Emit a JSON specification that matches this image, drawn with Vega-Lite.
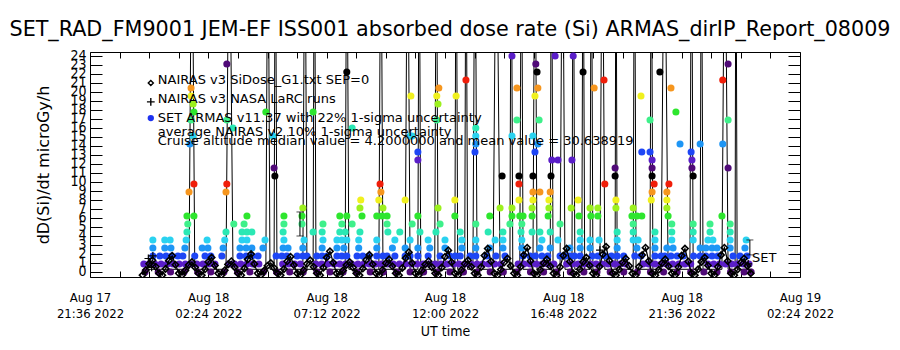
{
"$schema":"https://vega.github.io/schema/vega-lite/v6.json",
"width":710,"height":225,"autosize":"none",
"padding":{"left":90,"top":52,"right":100,"bottom":73},
"background":"white",
"title":{"text":"SET_RAD_FM9001  JEM-EF ISS001 absorbed dose rate (Si) ARMAS_dirIP_Report_08009","font":"DejaVu Sans","fontSize":20.7,"fontWeight":"normal","color":"black","anchor":"middle","frame":"group","offset":8,"dx":5},
"config":{"view":{"stroke":null},"axis":{"domainColor":"black","tickColor":"black","labelColor":"black","titleColor":"black","grid":false,"labelFont":"Liberation Sans Narrow, DejaVu Sans Condensed","labelFontSize":13,"titleFontWeight":"normal","domainWidth":1,"tickWidth":1}},
"datasets":{
"armas":[
{"t":"2022-08-17T23:50Z","d":0},{"t":"2022-08-18T00:22Z","d":0},{"t":"2022-08-18T00:52Z","d":0},{"t":"2022-08-18T01:25Z","d":0},{"t":"2022-08-18T01:58Z","d":0},{"t":"2022-08-18T02:30Z","d":0},{"t":"2022-08-18T03:02Z","d":0},{"t":"2022-08-18T03:35Z","d":0},{"t":"2022-08-18T04:05Z","d":0},{"t":"2022-08-18T04:38Z","d":0},{"t":"2022-08-18T05:10Z","d":0},{"t":"2022-08-18T05:42Z","d":0},{"t":"2022-08-18T06:15Z","d":0},{"t":"2022-08-18T06:48Z","d":0},{"t":"2022-08-18T07:20Z","d":0},{"t":"2022-08-18T07:52Z","d":0},{"t":"2022-08-18T08:25Z","d":0},{"t":"2022-08-18T08:58Z","d":0},{"t":"2022-08-18T09:30Z","d":0},{"t":"2022-08-18T10:02Z","d":0},{"t":"2022-08-18T10:35Z","d":0},{"t":"2022-08-18T11:08Z","d":0},{"t":"2022-08-18T11:40Z","d":0},{"t":"2022-08-18T12:12Z","d":0},{"t":"2022-08-18T12:45Z","d":0},{"t":"2022-08-18T13:18Z","d":0},{"t":"2022-08-18T13:50Z","d":0},{"t":"2022-08-18T14:22Z","d":0},{"t":"2022-08-18T14:55Z","d":0},{"t":"2022-08-18T15:28Z","d":0},{"t":"2022-08-18T16:00Z","d":0},{"t":"2022-08-18T16:32Z","d":0},{"t":"2022-08-18T17:05Z","d":0},{"t":"2022-08-18T17:38Z","d":0},{"t":"2022-08-18T18:10Z","d":0},{"t":"2022-08-18T18:42Z","d":0},{"t":"2022-08-18T19:15Z","d":0},{"t":"2022-08-18T19:48Z","d":0},{"t":"2022-08-18T20:20Z","d":0},{"t":"2022-08-18T20:52Z","d":0},{"t":"2022-08-18T21:25Z","d":0},{"t":"2022-08-18T21:58Z","d":0},{"t":"2022-08-18T22:30Z","d":0},{"t":"2022-08-18T23:02Z","d":0},{"t":"2022-08-18T23:35Z","d":0},{"t":"2022-08-19T00:08Z","d":0},{"t":"2022-08-19T00:25Z","d":0},
{"t":"2022-08-17T23:47Z","d":0.89},{"t":"2022-08-18T00:00Z","d":0.89},{"t":"2022-08-18T00:14Z","d":0.89},{"t":"2022-08-18T00:29Z","d":0.89},{"t":"2022-08-18T00:44Z","d":0.89},{"t":"2022-08-18T00:58Z","d":0.89},{"t":"2022-08-18T01:13Z","d":0.89},{"t":"2022-08-18T01:28Z","d":0.89},{"t":"2022-08-18T01:42Z","d":0.89},{"t":"2022-08-18T01:56Z","d":0.89},{"t":"2022-08-18T02:11Z","d":0.89},{"t":"2022-08-18T02:26Z","d":0.89},{"t":"2022-08-18T02:40Z","d":0.89},{"t":"2022-08-18T03:14Z","d":0.89},{"t":"2022-08-18T03:28Z","d":0.89},{"t":"2022-08-18T03:43Z","d":0.89},{"t":"2022-08-18T03:58Z","d":0.89},{"t":"2022-08-18T04:12Z","d":0.89},{"t":"2022-08-18T04:27Z","d":0.89},{"t":"2022-08-18T05:25Z","d":0.89},{"t":"2022-08-18T05:40Z","d":0.89},{"t":"2022-08-18T05:54Z","d":0.89},{"t":"2022-08-18T06:08Z","d":0.89},{"t":"2022-08-18T06:46Z","d":0.89},{"t":"2022-08-18T07:00Z","d":0.89},{"t":"2022-08-18T07:15Z","d":0.89},{"t":"2022-08-18T07:30Z","d":0.89},{"t":"2022-08-18T07:44Z","d":0.89},{"t":"2022-08-18T07:58Z","d":0.89},{"t":"2022-08-18T08:13Z","d":0.89},{"t":"2022-08-18T08:28Z","d":0.89},{"t":"2022-08-18T08:42Z","d":0.89},{"t":"2022-08-18T08:56Z","d":0.89},{"t":"2022-08-18T09:11Z","d":0.89},{"t":"2022-08-18T09:26Z","d":0.89},{"t":"2022-08-18T09:40Z","d":0.89},{"t":"2022-08-18T09:54Z","d":0.89},{"t":"2022-08-18T10:09Z","d":0.89},{"t":"2022-08-18T10:24Z","d":0.89},{"t":"2022-08-18T10:38Z","d":0.89},{"t":"2022-08-18T10:52Z","d":0.89},{"t":"2022-08-18T11:07Z","d":0.89},{"t":"2022-08-18T11:22Z","d":0.89},{"t":"2022-08-18T11:36Z","d":0.89},{"t":"2022-08-18T11:50Z","d":0.89},{"t":"2022-08-18T12:05Z","d":0.89},{"t":"2022-08-18T12:20Z","d":0.89},{"t":"2022-08-18T12:34Z","d":0.89},{"t":"2022-08-18T12:48Z","d":0.89},{"t":"2022-08-18T13:03Z","d":0.89},{"t":"2022-08-18T13:18Z","d":0.89},{"t":"2022-08-18T13:32Z","d":0.89},{"t":"2022-08-18T13:46Z","d":0.89},{"t":"2022-08-18T14:01Z","d":0.89},{"t":"2022-08-18T14:16Z","d":0.89},{"t":"2022-08-18T14:58Z","d":0.89},{"t":"2022-08-18T15:12Z","d":0.89},{"t":"2022-08-18T15:27Z","d":0.89},{"t":"2022-08-18T15:42Z","d":0.89},{"t":"2022-08-18T15:56Z","d":0.89},{"t":"2022-08-18T16:10Z","d":0.89},{"t":"2022-08-18T16:25Z","d":0.89},{"t":"2022-08-18T16:56Z","d":0.89},{"t":"2022-08-18T17:10Z","d":0.89},{"t":"2022-08-18T17:24Z","d":0.89},{"t":"2022-08-18T17:39Z","d":0.89},{"t":"2022-08-18T17:54Z","d":0.89},{"t":"2022-08-18T18:08Z","d":0.89},{"t":"2022-08-18T18:22Z","d":0.89},{"t":"2022-08-18T18:37Z","d":0.89},{"t":"2022-08-18T18:52Z","d":0.89},{"t":"2022-08-18T19:06Z","d":0.89},{"t":"2022-08-18T19:20Z","d":0.89},{"t":"2022-08-18T20:02Z","d":0.89},{"t":"2022-08-18T20:16Z","d":0.89},{"t":"2022-08-18T20:31Z","d":0.89},{"t":"2022-08-18T20:46Z","d":0.89},{"t":"2022-08-18T21:00Z","d":0.89},{"t":"2022-08-18T21:14Z","d":0.89},{"t":"2022-08-18T21:29Z","d":0.89},{"t":"2022-08-18T21:44Z","d":0.89},{"t":"2022-08-18T21:58Z","d":0.89},{"t":"2022-08-18T22:40Z","d":0.89},{"t":"2022-08-18T22:54Z","d":0.89},{"t":"2022-08-18T23:08Z","d":0.89},{"t":"2022-08-18T23:23Z","d":0.89},{"t":"2022-08-18T23:38Z","d":0.89},{"t":"2022-08-18T23:52Z","d":0.89},{"t":"2022-08-19T00:06Z","d":0.89},{"t":"2022-08-19T00:20Z","d":0.89},
{"t":"2022-08-18T00:09Z","d":1.78},{"t":"2022-08-18T00:26Z","d":1.78},{"t":"2022-08-18T00:41Z","d":1.78},{"t":"2022-08-18T00:55Z","d":1.78},{"t":"2022-08-18T01:10Z","d":1.78},{"t":"2022-08-18T01:22Z","d":1.78},{"t":"2022-08-18T01:51Z","d":1.78},{"t":"2022-08-18T02:16Z","d":1.78},{"t":"2022-08-18T02:30Z","d":1.78},{"t":"2022-08-18T02:57Z","d":1.78},{"t":"2022-08-18T03:41Z","d":1.78},{"t":"2022-08-18T03:56Z","d":1.78},{"t":"2022-08-18T04:10Z","d":1.78},{"t":"2022-08-18T04:25Z","d":1.78},{"t":"2022-08-18T05:09Z","d":1.78},{"t":"2022-08-18T05:23Z","d":1.78},{"t":"2022-08-18T05:35Z","d":1.78},{"t":"2022-08-18T06:00Z","d":1.78},{"t":"2022-08-18T06:14Z","d":1.78},{"t":"2022-08-18T06:24Z","d":1.78},{"t":"2022-08-18T06:48Z","d":1.78},{"t":"2022-08-18T07:01Z","d":1.78},{"t":"2022-08-18T07:13Z","d":1.78},{"t":"2022-08-18T07:37Z","d":1.78},{"t":"2022-08-18T07:49Z","d":1.78},{"t":"2022-08-18T08:01Z","d":1.78},{"t":"2022-08-18T08:26Z","d":1.78},{"t":"2022-08-18T08:40Z","d":1.78},{"t":"2022-08-18T08:55Z","d":1.78},{"t":"2022-08-18T09:14Z","d":1.78},{"t":"2022-08-18T09:29Z","d":1.78},{"t":"2022-08-18T09:39Z","d":1.78},{"t":"2022-08-18T09:58Z","d":1.78},{"t":"2022-08-18T10:23Z","d":1.78},{"t":"2022-08-18T10:35Z","d":1.78},{"t":"2022-08-18T10:54Z","d":1.78},{"t":"2022-08-18T11:19Z","d":1.78},{"t":"2022-08-18T11:48Z","d":1.78},{"t":"2022-08-18T12:12Z","d":1.78},{"t":"2022-08-18T12:25Z","d":1.78},{"t":"2022-08-18T12:37Z","d":1.78},{"t":"2022-08-18T13:01Z","d":1.78},{"t":"2022-08-18T13:15Z","d":1.78},{"t":"2022-08-18T13:42Z","d":1.78},{"t":"2022-08-18T14:04Z","d":1.78},{"t":"2022-08-18T14:26Z","d":1.78},{"t":"2022-08-18T15:10Z","d":1.78},{"t":"2022-08-18T15:27Z","d":1.78},{"t":"2022-08-18T15:40Z","d":1.78},{"t":"2022-08-18T15:56Z","d":1.78},{"t":"2022-08-18T16:10Z","d":1.78},{"t":"2022-08-18T16:40Z","d":1.78},{"t":"2022-08-18T16:55Z","d":1.78},{"t":"2022-08-18T17:04Z","d":1.78},{"t":"2022-08-18T17:15Z","d":1.78},{"t":"2022-08-18T17:29Z","d":1.78},{"t":"2022-08-18T17:58Z","d":1.78},{"t":"2022-08-18T18:12Z","d":1.78},{"t":"2022-08-18T18:30Z","d":1.78},{"t":"2022-08-18T18:45Z","d":1.78},{"t":"2022-08-18T18:59Z","d":1.78},{"t":"2022-08-18T19:15Z","d":1.78},{"t":"2022-08-18T19:42Z","d":1.78},{"t":"2022-08-18T19:57Z","d":1.78},{"t":"2022-08-18T20:31Z","d":1.78},{"t":"2022-08-18T20:46Z","d":1.78},{"t":"2022-08-18T20:55Z","d":1.78},{"t":"2022-08-18T21:10Z","d":1.78},{"t":"2022-08-18T21:25Z","d":1.78},{"t":"2022-08-18T21:40Z","d":1.78},{"t":"2022-08-18T22:05Z","d":1.78},{"t":"2022-08-18T22:21Z","d":1.78},{"t":"2022-08-18T22:35Z","d":1.78},{"t":"2022-08-18T22:50Z","d":1.78},{"t":"2022-08-18T23:04Z","d":1.78},{"t":"2022-08-18T23:41Z","d":1.78},{"t":"2022-08-18T23:58Z","d":1.78},{"t":"2022-08-19T00:15Z","d":1.78},
{"t":"2022-08-18T00:09Z","d":2.67},{"t":"2022-08-18T00:38Z","d":2.67},{"t":"2022-08-18T00:53Z","d":2.67},{"t":"2022-08-18T01:27Z","d":2.67},{"t":"2022-08-18T02:09Z","d":2.67},{"t":"2022-08-18T02:23Z","d":2.67},{"t":"2022-08-18T03:00Z","d":2.67},{"t":"2022-08-18T03:41Z","d":2.67},{"t":"2022-08-18T03:56Z","d":2.67},{"t":"2022-08-18T04:10Z","d":2.67},{"t":"2022-08-18T04:37Z","d":2.67},{"t":"2022-08-18T05:26Z","d":2.67},{"t":"2022-08-18T05:38Z","d":2.67},{"t":"2022-08-18T06:14Z","d":2.67},{"t":"2022-08-18T07:01Z","d":2.67},{"t":"2022-08-18T07:37Z","d":2.67},{"t":"2022-08-18T07:54Z","d":2.67},{"t":"2022-08-18T08:30Z","d":2.67},{"t":"2022-08-18T09:14Z","d":2.67},{"t":"2022-08-18T09:52Z","d":2.67},{"t":"2022-08-18T10:23Z","d":2.67},{"t":"2022-08-18T10:54Z","d":2.67},{"t":"2022-08-18T11:23Z","d":2.67},{"t":"2022-08-18T12:00Z","d":2.67},{"t":"2022-08-18T12:41Z","d":2.67},{"t":"2022-08-18T13:15Z","d":2.67},{"t":"2022-08-18T13:49Z","d":2.67},{"t":"2022-08-18T14:21Z","d":2.67},{"t":"2022-08-18T15:07Z","d":2.67},{"t":"2022-08-18T15:51Z","d":2.67},{"t":"2022-08-18T16:16Z","d":2.67},{"t":"2022-08-18T17:04Z","d":2.67},{"t":"2022-08-18T17:29Z","d":2.67},{"t":"2022-08-18T17:53Z","d":2.67},{"t":"2022-08-18T18:59Z","d":2.67},{"t":"2022-08-18T19:47Z","d":2.67},{"t":"2022-08-18T20:31Z","d":2.67},{"t":"2022-08-18T21:00Z","d":2.67},{"t":"2022-08-18T21:15Z","d":2.67},{"t":"2022-08-18T22:21Z","d":2.67},{"t":"2022-08-18T22:35Z","d":2.67},{"t":"2022-08-18T22:50Z","d":2.67},{"t":"2022-08-18T23:02Z","d":2.67},{"t":"2022-08-18T23:34Z","d":2.67},{"t":"2022-08-19T00:10Z","d":2.67},
{"t":"2022-08-18T00:09Z","d":3.56},{"t":"2022-08-18T00:38Z","d":3.56},{"t":"2022-08-18T00:51Z","d":3.56},{"t":"2022-08-18T01:30Z","d":3.56},{"t":"2022-08-18T02:21Z","d":3.56},{"t":"2022-08-18T03:04Z","d":3.56},{"t":"2022-08-18T03:46Z","d":3.56},{"t":"2022-08-18T03:58Z","d":3.56},{"t":"2022-08-18T04:42Z","d":3.56},{"t":"2022-08-18T05:28Z","d":3.56},{"t":"2022-08-18T06:17Z","d":3.56},{"t":"2022-08-18T07:03Z","d":3.56},{"t":"2022-08-18T07:37Z","d":3.56},{"t":"2022-08-18T07:49Z","d":3.56},{"t":"2022-08-18T08:01Z","d":3.56},{"t":"2022-08-18T08:30Z","d":3.56},{"t":"2022-08-18T09:14Z","d":3.56},{"t":"2022-08-18T09:58Z","d":3.56},{"t":"2022-08-18T10:35Z","d":3.56},{"t":"2022-08-18T11:19Z","d":3.56},{"t":"2022-08-18T12:00Z","d":3.56},{"t":"2022-08-18T12:41Z","d":3.56},{"t":"2022-08-18T13:15Z","d":3.56},{"t":"2022-08-18T14:02Z","d":3.56},{"t":"2022-08-18T14:21Z","d":3.56},{"t":"2022-08-18T15:07Z","d":3.56},{"t":"2022-08-18T15:56Z","d":3.56},{"t":"2022-08-18T16:35Z","d":3.56},{"t":"2022-08-18T17:29Z","d":3.56},{"t":"2022-08-18T17:53Z","d":3.56},{"t":"2022-08-18T18:15Z","d":3.56},{"t":"2022-08-18T18:59Z","d":3.56},{"t":"2022-08-18T19:38Z","d":3.56},{"t":"2022-08-18T19:50Z","d":3.56},{"t":"2022-08-18T20:31Z","d":3.56},{"t":"2022-08-18T21:12Z","d":3.56},{"t":"2022-08-18T22:04Z","d":3.56},{"t":"2022-08-18T22:40Z","d":3.56},{"t":"2022-08-18T22:52Z","d":3.56},{"t":"2022-08-18T23:34Z","d":3.56},{"t":"2022-08-19T00:13Z","d":3.56},
{"t":"2022-08-18T01:32Z","d":4.44},{"t":"2022-08-18T03:07Z","d":4.44},{"t":"2022-08-18T03:46Z","d":4.44},{"t":"2022-08-18T03:58Z","d":4.44},{"t":"2022-08-18T04:10Z","d":4.44},{"t":"2022-08-18T05:26Z","d":4.44},{"t":"2022-08-18T06:39Z","d":4.44},{"t":"2022-08-18T07:01Z","d":4.44},{"t":"2022-08-18T07:44Z","d":4.44},{"t":"2022-08-18T07:57Z","d":4.44},{"t":"2022-08-18T08:33Z","d":4.44},{"t":"2022-08-18T09:41Z","d":4.44},{"t":"2022-08-18T10:10Z","d":4.44},{"t":"2022-08-18T10:59Z","d":4.44},{"t":"2022-08-18T11:38Z","d":4.44},{"t":"2022-08-18T12:37Z","d":4.44},{"t":"2022-08-18T13:45Z","d":4.44},{"t":"2022-08-18T14:21Z","d":4.44},{"t":"2022-08-18T15:05Z","d":4.44},{"t":"2022-08-18T15:32Z","d":4.44},{"t":"2022-08-18T15:51Z","d":4.44},{"t":"2022-08-18T16:16Z","d":4.44},{"t":"2022-08-18T17:29Z","d":4.44},{"t":"2022-08-18T18:59Z","d":4.44},{"t":"2022-08-18T19:38Z","d":4.44},{"t":"2022-08-18T20:31Z","d":4.44},{"t":"2022-08-18T21:12Z","d":4.44},{"t":"2022-08-18T22:04Z","d":4.44},{"t":"2022-08-18T22:45Z","d":4.44},{"t":"2022-08-18T23:34Z","d":4.44},
{"t":"2022-08-18T01:34Z","d":5.33},{"t":"2022-08-18T03:26Z","d":5.33},{"t":"2022-08-18T03:51Z","d":5.33},{"t":"2022-08-18T05:28Z","d":5.33},{"t":"2022-08-18T06:12Z","d":5.33},{"t":"2022-08-18T07:03Z","d":5.33},{"t":"2022-08-18T07:49Z","d":5.33},{"t":"2022-08-18T08:14Z","d":5.33},{"t":"2022-08-18T09:39Z","d":5.33},{"t":"2022-08-18T10:40Z","d":5.33},{"t":"2022-08-18T11:48Z","d":5.33},{"t":"2022-08-18T13:15Z","d":5.33},{"t":"2022-08-18T14:38Z","d":5.33},{"t":"2022-08-18T15:07Z","d":5.33},{"t":"2022-08-18T16:40Z","d":5.33},{"t":"2022-08-18T19:38Z","d":5.33},{"t":"2022-08-18T21:12Z","d":5.33},{"t":"2022-08-18T22:04Z","d":5.33},{"t":"2022-08-18T22:45Z","d":5.33},{"t":"2022-08-18T23:34Z","d":5.33},
{"t":"2022-08-18T01:32Z","d":6.22},{"t":"2022-08-18T01:49Z","d":6.22},{"t":"2022-08-18T03:58Z","d":6.22},{"t":"2022-08-18T05:28Z","d":6.22},{"t":"2022-08-18T06:12Z","d":6.22},{"t":"2022-08-18T07:44Z","d":6.22},{"t":"2022-08-18T08:01Z","d":6.22},{"t":"2022-08-18T08:38Z","d":6.22},{"t":"2022-08-18T09:14Z","d":6.22},{"t":"2022-08-18T09:27Z","d":6.22},{"t":"2022-08-18T09:39Z","d":6.22},{"t":"2022-08-18T10:54Z","d":6.22},{"t":"2022-08-18T12:24Z","d":6.22},{"t":"2022-08-18T13:49Z","d":6.22},{"t":"2022-08-18T14:43Z","d":6.22},{"t":"2022-08-18T15:02Z","d":6.22},{"t":"2022-08-18T15:10Z","d":6.22},{"t":"2022-08-18T15:32Z","d":6.22},{"t":"2022-08-18T16:11Z","d":6.22},{"t":"2022-08-18T17:26Z","d":6.22},{"t":"2022-08-18T17:55Z","d":6.22},{"t":"2022-08-18T18:12Z","d":6.22},{"t":"2022-08-18T19:35Z","d":6.22},{"t":"2022-08-18T19:47Z","d":6.22},{"t":"2022-08-18T19:59Z","d":6.22},{"t":"2022-08-18T21:03Z","d":6.22},{"t":"2022-08-18T23:14Z","d":6.22},
{"t":"2022-08-18T06:14Z","d":7.11},{"t":"2022-08-18T08:33Z","d":7.11},{"t":"2022-08-18T09:29Z","d":7.11},{"t":"2022-08-18T11:43Z","d":7.11},{"t":"2022-08-18T14:14Z","d":7.11},{"t":"2022-08-18T14:43Z","d":7.11},{"t":"2022-08-18T15:32Z","d":7.11},{"t":"2022-08-18T16:13Z","d":7.11},{"t":"2022-08-18T17:07Z","d":7.11},{"t":"2022-08-18T17:53Z","d":7.11},{"t":"2022-08-18T18:12Z","d":7.11},{"t":"2022-08-18T18:56Z","d":7.11},{"t":"2022-08-18T19:38Z","d":7.11},{"t":"2022-08-18T21:00Z","d":7.11},
{"t":"2022-08-18T08:35Z","d":8},{"t":"2022-08-18T09:19Z","d":8},{"t":"2022-08-18T10:23Z","d":8},{"t":"2022-08-18T12:24Z","d":8},{"t":"2022-08-18T15:00Z","d":8},{"t":"2022-08-18T15:34Z","d":8},{"t":"2022-08-18T16:13Z","d":8},{"t":"2022-08-18T17:24Z","d":8},{"t":"2022-08-18T18:56Z","d":8},{"t":"2022-08-18T20:22Z","d":8},{"t":"2022-08-18T21:00Z","d":8},
{"t":"2022-08-18T01:37Z","d":8.89},{"t":"2022-08-18T03:07Z","d":8.89},{"t":"2022-08-18T09:24Z","d":8.89},{"t":"2022-08-18T15:34Z","d":8.89},{"t":"2022-08-18T15:51Z","d":8.89},{"t":"2022-08-18T16:16Z","d":8.89},{"t":"2022-08-18T20:24Z","d":8.89},{"t":"2022-08-18T21:00Z","d":8.89},
{"t":"2022-08-18T01:49Z","d":9.78},{"t":"2022-08-18T03:09Z","d":9.78},{"t":"2022-08-18T09:22Z","d":9.78},{"t":"2022-08-18T15:00Z","d":9.78},{"t":"2022-08-18T18:29Z","d":9.78},{"t":"2022-08-18T20:29Z","d":9.78},{"t":"2022-08-18T21:05Z","d":9.78},
{"t":"2022-08-18T05:06Z","d":10.67},{"t":"2022-08-18T14:19Z","d":10.67},{"t":"2022-08-18T15:00Z","d":10.67},{"t":"2022-08-18T15:34Z","d":10.67},{"t":"2022-08-18T16:18Z","d":10.67},{"t":"2022-08-18T18:54Z","d":10.67},{"t":"2022-08-18T20:24Z","d":10.67},{"t":"2022-08-18T22:04Z","d":10.67},
{"t":"2022-08-18T05:04Z","d":11.56},{"t":"2022-08-18T18:54Z","d":11.56},{"t":"2022-08-18T20:24Z","d":11.56},{"t":"2022-08-18T22:01Z","d":11.56},{"t":"2022-08-18T23:29Z","d":11.56},
{"t":"2022-08-18T10:54Z","d":12.44},{"t":"2022-08-18T16:20Z","d":12.44},{"t":"2022-08-18T16:35Z","d":12.44},{"t":"2022-08-18T17:09Z","d":12.44},{"t":"2022-08-18T20:24Z","d":12.44},{"t":"2022-08-18T22:01Z","d":12.44},
{"t":"2022-08-18T10:54Z","d":13.33},{"t":"2022-08-18T13:13Z","d":13.33},{"t":"2022-08-18T15:39Z","d":13.33},{"t":"2022-08-18T19:59Z","d":13.33},{"t":"2022-08-18T20:19Z","d":13.33},{"t":"2022-08-18T21:59Z","d":13.33},
{"t":"2022-08-18T01:39Z","d":14.22},{"t":"2022-08-18T13:15Z","d":14.22},{"t":"2022-08-18T15:46Z","d":14.22},{"t":"2022-08-18T21:32Z","d":14.22},{"t":"2022-08-18T22:21Z","d":14.22},{"t":"2022-08-18T23:16Z","d":14.22},
{"t":"2022-08-18T01:47Z","d":15.11},{"t":"2022-08-18T05:01Z","d":15.11},{"t":"2022-08-18T10:35Z","d":15.11},{"t":"2022-08-18T10:40Z","d":15.11},{"t":"2022-08-18T13:15Z","d":15.11},{"t":"2022-08-18T14:43Z","d":15.11},{"t":"2022-08-18T15:34Z","d":15.11},
{"t":"2022-08-18T03:24Z","d":16},{"t":"2022-08-18T08:14Z","d":16},{"t":"2022-08-18T13:15Z","d":16},
{"t":"2022-08-18T01:42Z","d":16.89},{"t":"2022-08-18T03:09Z","d":16.89},{"t":"2022-08-18T11:40Z","d":16.89},{"t":"2022-08-18T14:55Z","d":16.89},{"t":"2022-08-18T15:49Z","d":16.89},{"t":"2022-08-18T20:19Z","d":16.89},{"t":"2022-08-18T23:29Z","d":16.89},
{"t":"2022-08-18T01:49Z","d":17.78},{"t":"2022-08-18T04:44Z","d":17.78},{"t":"2022-08-18T06:39Z","d":17.78},{"t":"2022-08-18T21:22Z","d":17.78},
{"t":"2022-08-18T01:47Z","d":18.67},{"t":"2022-08-18T11:43Z","d":18.67},
{"t":"2022-08-18T01:42Z","d":19.56},{"t":"2022-08-18T10:37Z","d":19.56},{"t":"2022-08-18T11:40Z","d":19.56},{"t":"2022-08-18T12:27Z","d":19.56},{"t":"2022-08-18T15:39Z","d":19.56},{"t":"2022-08-18T19:57Z","d":19.56},
{"t":"2022-08-18T01:42Z","d":20.44},{"t":"2022-08-18T11:45Z","d":20.44},{"t":"2022-08-18T14:55Z","d":20.44},{"t":"2022-08-18T15:46Z","d":20.44},{"t":"2022-08-18T18:03Z","d":20.44},{"t":"2022-08-18T21:10Z","d":20.44},
{"t":"2022-08-18T12:51Z","d":21.33},{"t":"2022-08-18T18:27Z","d":21.33},{"t":"2022-08-18T23:16Z","d":21.33},
{"t":"2022-08-18T08:01Z","d":22.22},{"t":"2022-08-18T15:44Z","d":22.22},{"t":"2022-08-18T17:36Z","d":22.22},{"t":"2022-08-18T20:43Z","d":22.22},
{"t":"2022-08-18T03:09Z","d":23.11},{"t":"2022-08-18T15:41Z","d":23.11},{"t":"2022-08-18T23:29Z","d":23.11},
{"t":"2022-08-18T14:43Z","d":24},{"t":"2022-08-18T16:28Z","d":24},{"t":"2022-08-18T17:12Z","d":24}
],
"nairas":[
{"t":"2022-08-17T23:44Z","d":-0.35},{"t":"2022-08-17T23:52Z","d":0.22},{"t":"2022-08-18T00:00Z","d":0.91},{"t":"2022-08-18T00:08Z","d":1.3},{"t":"2022-08-18T00:16Z","d":0.58},{"t":"2022-08-18T00:24Z","d":-0.15},
{"t":"2022-08-18T00:32Z","d":-0.35},{"t":"2022-08-18T00:40Z","d":0.35},{"t":"2022-08-18T00:48Z","d":1.26},{"t":"2022-08-18T00:56Z","d":1.8},{"t":"2022-08-18T01:04Z","d":0.81},{"t":"2022-08-18T01:12Z","d":-0.15},
{"t":"2022-08-18T01:20Z","d":-0.35},{"t":"2022-08-18T01:28Z","d":0.18},{"t":"2022-08-18T01:36Z","d":0.77},{"t":"2022-08-18T01:44Z","d":1.1},{"t":"2022-08-18T01:52Z","d":0.5},{"t":"2022-08-18T02:00Z","d":-0.15},
{"t":"2022-08-18T02:08Z","d":-0.35},{"t":"2022-08-18T02:16Z","d":0.3},{"t":"2022-08-18T02:24Z","d":1.12},{"t":"2022-08-18T02:32Z","d":1.6},{"t":"2022-08-18T02:40Z","d":0.72},{"t":"2022-08-18T02:48Z","d":-0.15},
{"t":"2022-08-18T02:56Z","d":-0.35},{"t":"2022-08-18T03:04Z","d":0.2},{"t":"2022-08-18T03:12Z","d":0.84},{"t":"2022-08-18T03:20Z","d":1.2},{"t":"2022-08-18T03:28Z","d":0.54},{"t":"2022-08-18T03:36Z","d":-0.15},
{"t":"2022-08-18T03:44Z","d":-0.35},{"t":"2022-08-18T03:52Z","d":0.4},{"t":"2022-08-18T04:00Z","d":1.4},{"t":"2022-08-18T04:08Z","d":2.0},{"t":"2022-08-18T04:16Z","d":0.9},{"t":"2022-08-18T04:24Z","d":-0.15},
{"t":"2022-08-18T04:32Z","d":-0.35},{"t":"2022-08-18T04:40Z","d":0.15},{"t":"2022-08-18T04:48Z","d":0.7},{"t":"2022-08-18T04:56Z","d":1.0},{"t":"2022-08-18T05:04Z","d":0.45},{"t":"2022-08-18T05:12Z","d":-0.15},
{"t":"2022-08-18T05:20Z","d":-0.35},{"t":"2022-08-18T05:28Z","d":0.32},{"t":"2022-08-18T05:36Z","d":1.19},{"t":"2022-08-18T05:44Z","d":1.7},{"t":"2022-08-18T05:52Z","d":0.77},{"t":"2022-08-18T06:00Z","d":-0.15},
{"t":"2022-08-18T06:08Z","d":-0.35},{"t":"2022-08-18T06:16Z","d":0.22},{"t":"2022-08-18T06:24Z","d":0.91},{"t":"2022-08-18T06:32Z","d":1.3},{"t":"2022-08-18T06:40Z","d":0.58},{"t":"2022-08-18T06:48Z","d":-0.15},
{"t":"2022-08-18T06:56Z","d":-0.35},{"t":"2022-08-18T07:04Z","d":0.48},{"t":"2022-08-18T07:12Z","d":1.61},{"t":"2022-08-18T07:20Z","d":2.3},{"t":"2022-08-18T07:28Z","d":1.04},{"t":"2022-08-18T07:36Z","d":-0.15},
{"t":"2022-08-18T07:44Z","d":-0.35},{"t":"2022-08-18T07:52Z","d":0.18},{"t":"2022-08-18T08:00Z","d":0.77},{"t":"2022-08-18T08:08Z","d":1.1},{"t":"2022-08-18T08:16Z","d":0.5},{"t":"2022-08-18T08:24Z","d":-0.15},
{"t":"2022-08-18T08:32Z","d":-0.35},{"t":"2022-08-18T08:40Z","d":0.38},{"t":"2022-08-18T08:48Z","d":1.33},{"t":"2022-08-18T08:56Z","d":1.9},{"t":"2022-08-18T09:04Z","d":0.86},{"t":"2022-08-18T09:12Z","d":-0.15},
{"t":"2022-08-18T09:20Z","d":-0.35},{"t":"2022-08-18T09:28Z","d":0.25},{"t":"2022-08-18T09:36Z","d":0.98},{"t":"2022-08-18T09:44Z","d":1.4},{"t":"2022-08-18T09:52Z","d":0.63},{"t":"2022-08-18T10:00Z","d":-0.15},
{"t":"2022-08-18T10:08Z","d":-0.35},{"t":"2022-08-18T10:16Z","d":0.45},{"t":"2022-08-18T10:24Z","d":1.54},{"t":"2022-08-18T10:32Z","d":2.2},{"t":"2022-08-18T10:40Z","d":0.99},{"t":"2022-08-18T10:48Z","d":-0.15},
{"t":"2022-08-18T10:56Z","d":-0.35},{"t":"2022-08-18T11:04Z","d":0.2},{"t":"2022-08-18T11:12Z","d":0.84},{"t":"2022-08-18T11:20Z","d":1.2},{"t":"2022-08-18T11:28Z","d":0.54},{"t":"2022-08-18T11:36Z","d":-0.15},
{"t":"2022-08-18T11:44Z","d":-0.35},{"t":"2022-08-18T11:52Z","d":0.5},{"t":"2022-08-18T12:00Z","d":1.68},{"t":"2022-08-18T12:08Z","d":2.4},{"t":"2022-08-18T12:16Z","d":1.08},{"t":"2022-08-18T12:24Z","d":-0.15},
{"t":"2022-08-18T12:32Z","d":-0.35},{"t":"2022-08-18T12:40Z","d":0.22},{"t":"2022-08-18T12:48Z","d":0.91},{"t":"2022-08-18T12:56Z","d":1.3},{"t":"2022-08-18T13:04Z","d":0.58},{"t":"2022-08-18T13:12Z","d":-0.15},
{"t":"2022-08-18T13:20Z","d":-0.35},{"t":"2022-08-18T13:28Z","d":0.55},{"t":"2022-08-18T13:36Z","d":1.82},{"t":"2022-08-18T13:44Z","d":2.6},{"t":"2022-08-18T13:52Z","d":1.17},{"t":"2022-08-18T14:00Z","d":-0.15},
{"t":"2022-08-18T14:08Z","d":-0.35},{"t":"2022-08-18T14:16Z","d":0.28},{"t":"2022-08-18T14:24Z","d":1.05},{"t":"2022-08-18T14:32Z","d":1.5},{"t":"2022-08-18T14:40Z","d":0.68},{"t":"2022-08-18T14:48Z","d":-0.15},
{"t":"2022-08-18T14:56Z","d":-0.35},{"t":"2022-08-18T15:04Z","d":0.58},{"t":"2022-08-18T15:12Z","d":1.89},{"t":"2022-08-18T15:20Z","d":2.7},{"t":"2022-08-18T15:28Z","d":1.22},{"t":"2022-08-18T15:36Z","d":-0.15},
{"t":"2022-08-18T15:44Z","d":-0.35},{"t":"2022-08-18T15:52Z","d":0.25},{"t":"2022-08-18T16:00Z","d":0.98},{"t":"2022-08-18T16:08Z","d":1.4},{"t":"2022-08-18T16:16Z","d":0.63},{"t":"2022-08-18T16:24Z","d":-0.15},
{"t":"2022-08-18T16:32Z","d":-0.35},{"t":"2022-08-18T16:40Z","d":0.55},{"t":"2022-08-18T16:48Z","d":1.82},{"t":"2022-08-18T16:56Z","d":2.6},{"t":"2022-08-18T17:04Z","d":1.17},{"t":"2022-08-18T17:12Z","d":-0.15},
{"t":"2022-08-18T17:20Z","d":-0.35},{"t":"2022-08-18T17:28Z","d":0.3},{"t":"2022-08-18T17:36Z","d":1.12},{"t":"2022-08-18T17:44Z","d":1.6},{"t":"2022-08-18T17:52Z","d":0.72},{"t":"2022-08-18T18:00Z","d":-0.15},
{"t":"2022-08-18T18:08Z","d":-0.35},{"t":"2022-08-18T18:16Z","d":0.6},{"t":"2022-08-18T18:24Z","d":1.96},{"t":"2022-08-18T18:32Z","d":2.8},{"t":"2022-08-18T18:40Z","d":1.26},{"t":"2022-08-18T18:48Z","d":-0.15},
{"t":"2022-08-18T18:56Z","d":-0.35},{"t":"2022-08-18T19:04Z","d":0.28},{"t":"2022-08-18T19:12Z","d":1.05},{"t":"2022-08-18T19:20Z","d":1.5},{"t":"2022-08-18T19:28Z","d":0.68},{"t":"2022-08-18T19:36Z","d":-0.15},
{"t":"2022-08-18T19:44Z","d":-0.35},{"t":"2022-08-18T19:52Z","d":0.58},{"t":"2022-08-18T20:00Z","d":1.89},{"t":"2022-08-18T20:08Z","d":2.7},{"t":"2022-08-18T20:16Z","d":1.22},{"t":"2022-08-18T20:24Z","d":-0.15},
{"t":"2022-08-18T20:32Z","d":-0.35},{"t":"2022-08-18T20:40Z","d":0.25},{"t":"2022-08-18T20:48Z","d":0.98},{"t":"2022-08-18T20:56Z","d":1.4},{"t":"2022-08-18T21:04Z","d":0.63},{"t":"2022-08-18T21:12Z","d":-0.15},
{"t":"2022-08-18T21:20Z","d":-0.35},{"t":"2022-08-18T21:28Z","d":0.55},{"t":"2022-08-18T21:36Z","d":1.82},{"t":"2022-08-18T21:44Z","d":2.6},{"t":"2022-08-18T21:52Z","d":1.17},{"t":"2022-08-18T22:00Z","d":-0.15},
{"t":"2022-08-18T22:08Z","d":-0.35},{"t":"2022-08-18T22:16Z","d":0.3},{"t":"2022-08-18T22:24Z","d":1.12},{"t":"2022-08-18T22:32Z","d":1.6},{"t":"2022-08-18T22:40Z","d":0.72},{"t":"2022-08-18T22:48Z","d":-0.15},
{"t":"2022-08-18T22:56Z","d":-0.35},{"t":"2022-08-18T23:04Z","d":0.58},{"t":"2022-08-18T23:12Z","d":1.89},{"t":"2022-08-18T23:20Z","d":2.7},{"t":"2022-08-18T23:28Z","d":1.22},{"t":"2022-08-18T23:36Z","d":-0.15},
{"t":"2022-08-18T23:44Z","d":-0.35},{"t":"2022-08-18T23:52Z","d":0.28},{"t":"2022-08-19T00:00Z","d":1.05},{"t":"2022-08-19T00:08Z","d":1.5},{"t":"2022-08-19T00:16Z","d":0.68},{"t":"2022-08-19T00:24Z","d":-0.15}
],
"trace":[
{"t":"2022-08-17T23:45Z","d":0.3},
{"t":"2022-08-18T01:37Z","d":0.3},{"t":"2022-08-18T01:44Z","d":45},{"t":"2022-08-18T01:51Z","d":0.3},
{"t":"2022-08-18T03:07Z","d":0.3},{"t":"2022-08-18T03:15Z","d":45},{"t":"2022-08-18T03:24Z","d":0.3},
{"t":"2022-08-18T04:44Z","d":0.3},{"t":"2022-08-18T04:49Z","d":45},{"t":"2022-08-18T04:54Z","d":0.3},
{"t":"2022-08-18T05:04Z","d":0.3},{"t":"2022-08-18T05:07Z","d":45},{"t":"2022-08-18T05:11Z","d":0.3},
{"t":"2022-08-18T06:14Z","d":0.3},{"t":"2022-08-18T06:19Z","d":45},{"t":"2022-08-18T06:24Z","d":0.3},
{"t":"2022-08-18T06:39Z","d":0.3},{"t":"2022-08-18T06:42Z","d":45},{"t":"2022-08-18T06:46Z","d":0.3},
{"t":"2022-08-18T07:57Z","d":0.3},{"t":"2022-08-18T08:01Z","d":45},{"t":"2022-08-18T08:06Z","d":0.3},
{"t":"2022-08-18T09:19Z","d":0.3},{"t":"2022-08-18T09:24Z","d":45},{"t":"2022-08-18T09:29Z","d":0.3},
{"t":"2022-08-18T10:23Z","d":0.3},{"t":"2022-08-18T10:29Z","d":45},{"t":"2022-08-18T10:35Z","d":0.3},
{"t":"2022-08-18T10:54Z","d":0.3},{"t":"2022-08-18T10:57Z","d":45},{"t":"2022-08-18T11:01Z","d":0.3},
{"t":"2022-08-18T11:35Z","d":0.3},{"t":"2022-08-18T11:39Z","d":45},{"t":"2022-08-18T11:43Z","d":0.3},
{"t":"2022-08-18T12:24Z","d":0.3},{"t":"2022-08-18T12:27Z","d":45},{"t":"2022-08-18T12:31Z","d":0.3},
{"t":"2022-08-18T12:48Z","d":0.3},{"t":"2022-08-18T12:51Z","d":45},{"t":"2022-08-18T12:55Z","d":0.3},
{"t":"2022-08-18T13:08Z","d":0.3},{"t":"2022-08-18T13:13Z","d":45},{"t":"2022-08-18T13:18Z","d":0.3},
{"t":"2022-08-18T13:57Z","d":0.3},{"t":"2022-08-18T14:05Z","d":45},{"t":"2022-08-18T14:14Z","d":0.3},
{"t":"2022-08-18T14:38Z","d":0.3},{"t":"2022-08-18T14:41Z","d":45},{"t":"2022-08-18T14:45Z","d":0.3},
{"t":"2022-08-18T15:02Z","d":0.3},{"t":"2022-08-18T15:06Z","d":45},{"t":"2022-08-18T15:10Z","d":0.3},
{"t":"2022-08-18T15:34Z","d":0.3},{"t":"2022-08-18T15:39Z","d":45},{"t":"2022-08-18T15:44Z","d":0.3},
{"t":"2022-08-18T16:16Z","d":0.3},{"t":"2022-08-18T16:19Z","d":45},{"t":"2022-08-18T16:23Z","d":0.3},
{"t":"2022-08-18T16:40Z","d":0.3},{"t":"2022-08-18T16:46Z","d":45},{"t":"2022-08-18T16:52Z","d":0.3},
{"t":"2022-08-18T17:09Z","d":0.3},{"t":"2022-08-18T17:12Z","d":45},{"t":"2022-08-18T17:16Z","d":0.3},
{"t":"2022-08-18T17:33Z","d":0.3},{"t":"2022-08-18T17:36Z","d":45},{"t":"2022-08-18T17:40Z","d":0.3},
{"t":"2022-08-18T17:53Z","d":0.3},{"t":"2022-08-18T17:56Z","d":45},{"t":"2022-08-18T18:00Z","d":0.3},
{"t":"2022-08-18T18:17Z","d":0.3},{"t":"2022-08-18T18:23Z","d":45},{"t":"2022-08-18T18:29Z","d":0.3},
{"t":"2022-08-18T18:54Z","d":0.3},{"t":"2022-08-18T18:56Z","d":45},{"t":"2022-08-18T18:59Z","d":0.3},
{"t":"2022-08-18T19:38Z","d":0.3},{"t":"2022-08-18T19:41Z","d":45},{"t":"2022-08-18T19:45Z","d":0.3},
{"t":"2022-08-18T20:19Z","d":0.3},{"t":"2022-08-18T20:22Z","d":45},{"t":"2022-08-18T20:26Z","d":0.3},
{"t":"2022-08-18T20:46Z","d":0.3},{"t":"2022-08-18T20:54Z","d":45},{"t":"2022-08-18T21:03Z","d":0.3},
{"t":"2022-08-18T21:56Z","d":0.3},{"t":"2022-08-18T22:00Z","d":45},{"t":"2022-08-18T22:04Z","d":0.3},
{"t":"2022-08-18T22:21Z","d":0.3},{"t":"2022-08-18T22:24Z","d":45},{"t":"2022-08-18T22:28Z","d":0.3},
{"t":"2022-08-18T23:14Z","d":0.3},{"t":"2022-08-18T23:21Z","d":45},{"t":"2022-08-18T23:29Z","d":0.3},
{"t":"2022-08-18T23:46Z","d":0.3},{"t":"2022-08-18T23:48Z","d":45},{"t":"2022-08-18T23:51Z","d":0.3},
{"t":"2022-08-19T00:28Z","d":0.3}
],
"larc":[
{"t":"2022-08-17T23:58Z","d":1.5},{"t":"2022-08-18T00:02Z","d":1.0},{"t":"2022-08-18T00:06Z","d":0.5},{"t":"2022-08-18T00:09Z","d":1.8},{"t":"2022-08-18T18:17Z","d":2.44},{"t":"2022-08-19T00:18Z","d":0.9}
],
"sigma":[
{"t":"2022-08-18T06:07Z","lo":4.0,"hi":6.67},{"t":"2022-08-19T00:22Z","lo":1.9,"hi":3.56}
],
"notes":[
{"t":"2022-08-18T00:21Z","d":21.33,"label":"NAIRAS v3 SiDose_G1.txt SEP=0"},
{"t":"2022-08-18T00:21Z","d":19.2,"label":"NAIRAS v3 NASA LaRC runs"},
{"t":"2022-08-18T00:21Z","d":17.1,"label":"SET ARMAS v11.37 with 22% 1-sigma uncertainty"},
{"t":"2022-08-18T00:21Z","d":15.6,"label":"average NAIRAS v2 10% 1-sigma uncertainty"},
{"t":"2022-08-18T00:21Z","d":14.56,"label":"Cruise altitude median value = 4.2000000 and mean value = 30.638919"},
{"t":"2022-08-19T00:27Z","d":1.56,"label":"SET"}
]
},
"layer":[
{"data":{"name":"trace"},"mark":{"type":"line","color":"black","strokeWidth":1,"clip":true},
 "encoding":{"x":{"field":"t","type":"temporal","scale":{"type":"utc","domain":[1660772160000,1660875840000]},"axis":null},
 "y":{"field":"d","type":"quantitative","scale":{"domain":[-0.556,24.444],"nice":false,"zero":false},"axis":null}}},
{"data":{"name":"armas"},"mark":{"type":"point","filled":true,"size":50,"opacity":1,"clip":true},
 "encoding":{"x":{"field":"t","type":"temporal","scale":{"type":"utc","domain":[1660772160000,1660875840000]},"axis":null},
 "y":{"field":"d","type":"quantitative","scale":{"domain":[-0.556,24.444],"nice":false,"zero":false},"axis":null},
 "color":{"field":"d","type":"ordinal","legend":null,"scale":{"domain":[0,0.89,1.78,2.67,3.56,4.44,5.33,6.22,7.11,8,8.89,9.78,10.67,11.56,12.44,13.33,14.22,15.11,16,16.89,17.78,18.67,19.56,20.44,21.33,22.22,23.11,24],
 "range":["#500a78","#5a1ec8","#1e46f5","#1e96f5","#2ad2f0","#2ae8b4","#3ef08a","#2ee62e","#9cf01e","#f0f01e","#f6961e","#f01e0a","#000000","#500a78","#5a1ec8","#1e46f5","#1e96f5","#2ad2f0","#2ae8b4","#3ef08a","#2ee62e","#9cf01e","#f0f01e","#f6961e","#f01e0a","#000000","#500a78","#5a1ec8"]}}}},
{"data":{"name":"nairas"},"mark":{"type":"line","color":"black","strokeWidth":1.3,"clip":true},
 "encoding":{"x":{"field":"t","type":"temporal","scale":{"type":"utc","domain":[1660772160000,1660875840000]},"axis":null},
 "y":{"field":"d","type":"quantitative","scale":{"domain":[-0.556,24.444],"nice":false,"zero":false},"axis":null}}},
{"data":{"name":"nairas"},"mark":{"type":"point","shape":"diamond","filled":false,"stroke":"black","strokeWidth":1.6,"size":40,"opacity":1,"clip":true},
 "encoding":{"x":{"field":"t","type":"temporal","scale":{"type":"utc","domain":[1660772160000,1660875840000]},
  "axis":{"orient":"bottom","values":[1660772160000,1660776480000,1660780800000,1660785120000,1660789440000,1660793760000,1660798080000,1660802400000,1660806720000,1660811040000,1660815360000,1660819680000,1660824000000,1660828320000,1660832640000,1660836960000,1660841280000,1660845600000,1660849920000,1660854240000,1660858560000,1660862880000,1660867200000,1660871520000,1660875840000],
  "labelExpr":"abs((datum.value - 1660772160000) % 17280000) < 1000 ? [utcFormat(datum.value, '%b %d'), utcFormat(datum.value, '%H:%M %Y')] : ''",
  "tickSize":-6,"labelPadding":20,"labelLineHeight":16,"labelOverlap":false,"labelFlush":false,"labelAngle":0,
  "title":"UT time","titleFont":"Liberation Sans Narrow, DejaVu Sans Condensed","titleFontSize":14,"titlePadding":4}},
 "y":{"field":"d","type":"quantitative","scale":{"domain":[-0.556,24.444],"nice":false,"zero":false},
  "axis":{"orient":"left","values":[0,1,2,3,4,5,6,7,8,9,10,11,12,13,14,15,16,17,18,19,20,21,22,23,24],"tickSize":-12,"labelPadding":16,"labelOverlap":false,"labelFlush":false,"labelFontSize":14,
  "title":"dD(Si)/dt microGy/h","titleFont":"DejaVu Sans","titleFontSize":16,"titlePadding":18}}}},
{"data":{"name":"larc"},"mark":{"type":"point","shape":"M-1,0L1,0M0,-1L0,1","filled":false,"stroke":"black","strokeWidth":1.2,"size":60,"opacity":1,"clip":true},
 "encoding":{"x":{"field":"t","type":"temporal","scale":{"type":"utc","domain":[1660772160000,1660875840000]},
  "axis":{"orient":"top","values":[1660772160000,1660776480000,1660780800000,1660785120000,1660789440000,1660793760000,1660798080000,1660802400000,1660806720000,1660811040000,1660815360000,1660819680000,1660824000000,1660828320000,1660832640000,1660836960000,1660841280000,1660845600000,1660849920000,1660854240000,1660858560000,1660862880000,1660867200000,1660871520000,1660875840000],"tickSize":-6,"labels":false,"title":null}},
 "y":{"field":"d","type":"quantitative","scale":{"domain":[-0.556,24.444],"nice":false,"zero":false},
  "axis":{"orient":"right","values":[0,1,2,3,4,5,6,7,8,9,10,11,12,13,14,15,16,17,18,19,20,21,22,23,24],"tickSize":-12,"labels":false,"title":null}}}},
{"data":{"name":"sigma"},"mark":{"type":"errorbar","ticks":{"color":"black","size":7},"rule":{"color":"black"}},
 "encoding":{"x":{"field":"t","type":"temporal","scale":{"type":"utc","domain":[1660772160000,1660875840000]},"axis":null},
 "y":{"field":"lo","type":"quantitative","scale":{"domain":[-0.556,24.444],"nice":false,"zero":false},"axis":null},
 "y2":{"field":"hi"}}},
{"data":{"values":[{"t":"2022-08-18T00:04Z","d":21.0}]},"mark":{"type":"point","shape":"diamond","filled":false,"stroke":"black","strokeWidth":1.4,"size":26,"opacity":1},
 "encoding":{"x":{"field":"t","type":"temporal","scale":{"type":"utc","domain":[1660772160000,1660875840000]},"axis":null},
 "y":{"field":"d","type":"quantitative","scale":{"domain":[-0.556,24.444],"nice":false,"zero":false},"axis":null}}},
{"data":{"values":[{"t":"2022-08-18T00:04Z","d":18.9}]},"mark":{"type":"point","shape":"M-1,0L1,0M0,-1L0,1","filled":false,"stroke":"black","strokeWidth":1.4,"size":60,"opacity":1},
 "encoding":{"x":{"field":"t","type":"temporal","scale":{"type":"utc","domain":[1660772160000,1660875840000]},"axis":null},
 "y":{"field":"d","type":"quantitative","scale":{"domain":[-0.556,24.444],"nice":false,"zero":false},"axis":null}}},
{"data":{"values":[{"t":"2022-08-18T00:04Z","d":17.1}]},"mark":{"type":"point","filled":true,"color":"#1e32f0","size":40,"opacity":1},
 "encoding":{"x":{"field":"t","type":"temporal","scale":{"type":"utc","domain":[1660772160000,1660875840000]},"axis":null},
 "y":{"field":"d","type":"quantitative","scale":{"domain":[-0.556,24.444],"nice":false,"zero":false},"axis":null}}},
{"data":{"name":"notes"},"mark":{"type":"text","align":"left","baseline":"middle","font":"DejaVu Sans","fontSize":13,"color":"black"},
 "encoding":{"x":{"field":"t","type":"temporal","scale":{"type":"utc","domain":[1660772160000,1660875840000]},"axis":null},
 "y":{"field":"d","type":"quantitative","scale":{"domain":[-0.556,24.444],"nice":false,"zero":false},"axis":null},
 "text":{"field":"label"}}}
],
"resolve":{"axis":{"x":"independent","y":"independent"}}
}
